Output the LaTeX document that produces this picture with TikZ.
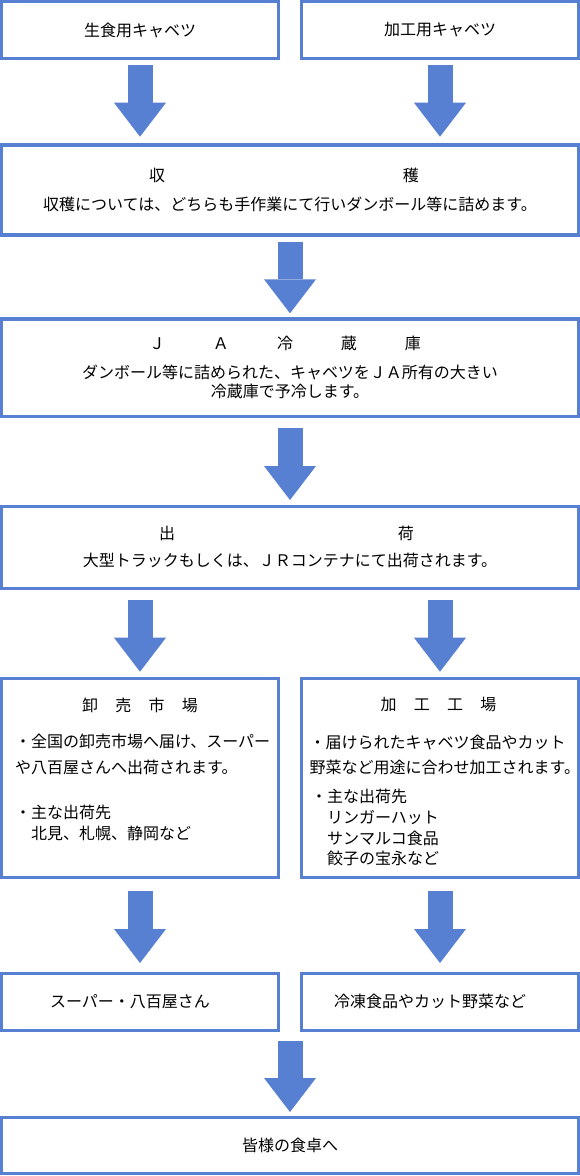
\documentclass[tikz,border=0pt]{standalone}
\usepackage{fontspec}
\setmainfont{Noto Sans CJK JP}
\usetikzlibrary{arrows.meta}
\definecolor{cabblue}{RGB}{88,128,210}

\begin{document}
\begin{tikzpicture}[x=1pt,y=-1pt,
    box/.style={draw=cabblue,line width=3.2pt,inner sep=0pt,minimum width=276.8pt,font=\fontsize{16pt}{19pt}\selectfont},
    wide box/.style={box,minimum width=576.8pt,align=center},
    txt/.style={inner sep=0pt,font=\fontsize{16pt}{19pt}\selectfont},
    bigarrow/.style={cabblue,line width=25pt,-{Triangle[length=34pt,width=52pt,line width=0pt]}}]
  \useasboundingbox (0,0) rectangle (580,1176);
  \node[box,minimum height=56.8pt] (raw) at (140,30) {生食用キャベツ};
  \node[box,minimum height=56.8pt] (proc) at (440,30) {加工用キャベツ};
  \node[wide box,minimum height=90pt] (harvest) at (290,190)
    {収\hspace{237.6pt}穫\hspace*{12pt}\\[10pt]収穫については、どちらも手作業にて行いダンボール等に詰めます。};
  \node[wide box,minimum height=97.5pt] (cold) at (290,367.75)
    {Ｊ\hspace{48pt}Ａ\hspace{48pt}冷\hspace{48pt}蔵\hspace{48pt}庫\hspace*{10pt}\\[10pt]ダンボール等に詰められた、キャベツをＪＡ所有の大きい\\冷蔵庫で予冷します。};
  \node[wide box,minimum height=81.8pt] (ship) at (290,547.4)
    {\rule{0pt}{6pt}出\hspace{223pt}荷\hspace*{7pt}\\[8pt]大型トラックもしくは、ＪＲコンテナにて出荷されます。};
  % market side
  \node[box,minimum height=199pt] (mkt) at (140,777.8) {};
  \node[txt] (mkttitle) at (140,705) {卸\hspace{17.3pt}売\hspace{17.3pt}市\hspace{17.3pt}場};
  \node[txt,anchor=west] (mkt1) at (15,741) {・全国の卸売市場へ届け、スーパー};
  \node[txt,anchor=west] (mkt2) at (15,767) {や八百屋さんへ出荷されます。};
  \node[txt,anchor=west] (mkt3) at (15,812) {・主な出荷先};
  \node[txt,anchor=west] (mkt4) at (15,833) {　北見、札幌、静岡など};
  % factory side
  \node[box,minimum height=199pt] (fac) at (440,777.8) {};
  \node[txt] (factitle) at (438.5,705) {加\hspace{17.3pt}工\hspace{17.3pt}工\hspace{17.3pt}場};
  \node[txt,anchor=west] (fac1) at (309.5,742) {・届けられたキャベツ食品やカット};
  \node[txt,anchor=west] (fac2) at (309.5,767) {野菜など用途に合わせ加工されます。};
  \node[txt,anchor=west] (fac3) at (311,796) {・主な出荷先};
  \node[txt,anchor=west] (fac4) at (311,817) {　リンガーハット};
  \node[txt,anchor=west] (fac5) at (311,838) {　サンマルコ食品};
  \node[txt,anchor=west] (fac6) at (311,858) {　餃子の宝永など};
  \node[box,minimum height=57pt] (shop) at (140,1001.8) {スーパー・八百屋さん\hspace*{20pt}};
  \node[box,minimum height=57pt] (food) at (440,1001.8) {冷凍食品やカット野菜など\hspace*{20pt}};
  \node[wide box,minimum height=56.2pt] (table) at (290,1145.4) {皆様の食卓へ};
  \path[bigarrow,shorten <=5pt,shorten >=6.7pt] (raw.south) edge (raw.south |- harvest.north);
  \path[bigarrow,shorten <=5pt,shorten >=6.7pt] (proc.south) edge (proc.south |- harvest.north);
  \path[bigarrow,shorten <=5.1pt,shorten >=4.1pt] (harvest.south) edge (cold.north);
  \path[bigarrow,shorten <=10pt,shorten >=4.9pt] (cold.south) edge (ship.north);
  \path[bigarrow,shorten <=10.1pt,shorten >=5pt] (mkt.north |- ship.south) edge (mkt.north);
  \path[bigarrow,shorten <=10.1pt,shorten >=5pt] (fac.north |- ship.south) edge (fac.north);
  \path[bigarrow,shorten <=12pt,shorten >=8.7pt] (mkt.south) edge (shop.north);
  \path[bigarrow,shorten <=12pt,shorten >=8.7pt] (fac.south) edge (food.north);
  \path[bigarrow,shorten <=9.1pt,shorten >=3.7pt] (table.north |- shop.south) edge (table.north);
\end{tikzpicture}
\end{document}
